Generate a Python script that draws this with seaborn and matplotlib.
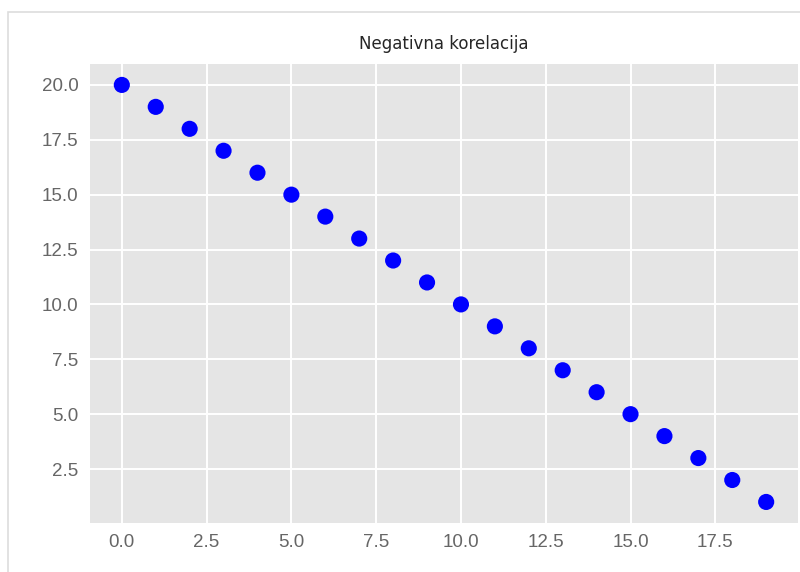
import numpy as np
import pandas as pd
import matplotlib
matplotlib.use("Agg")
import matplotlib.pyplot as plt
import seaborn as sns
from matplotlib.patches import Rectangle

# Podaci
x_vals = [0, 1, 2, 3, 4, 5, 6, 7, 8, 9, 10, 11, 12, 13, 14, 15, 16, 17, 18, 19]
y_vals = [20, 19, 18, 17, 16, 15, 14, 13, 12, 11, 10, 9, 8, 7, 6, 5, 4, 3, 2, 1]
x_ticks = [0.0, 2.5, 5.0, 7.5, 10.0, 12.5, 15.0, 17.5]
y_ticks = [2.5, 5.0, 7.5, 10.0, 12.5, 15.0, 17.5, 20.0]

df = pd.DataFrame({"x": x_vals, "y": y_vals})

sns.set_style("darkgrid", {
    "axes.facecolor": "#E5E5E5",
    "grid.color": "white",
    "xtick.color": "#666666",
    "ytick.color": "#666666",
})
plt.rcParams['font.family'] = ['Liberation Sans', 'DejaVu Sans']
plt.rcParams['grid.linewidth'] = 1.4

fig = plt.figure(figsize=(8, 5.72), dpi=100)
ax = fig.add_axes([0.112, 0.086, 0.886, 0.802])

sns.scatterplot(data=df, x="x", y="y", color="blue", s=135, edgecolor="none", ax=ax)

ax.set_xticks(x_ticks)
ax.set_yticks(y_ticks)
ax.set_xticklabels([f"{t:.1f}" for t in x_ticks])
ax.set_yticklabels([f"{t:.1f}" for t in y_ticks])
ax.tick_params(labelsize=13.5, pad=8, length=0)
ax.set_xlabel("")
ax.set_ylabel("")
ax.set_title("Negativna korelacija", fontsize=12, family="DejaVu Sans", pad=11)
for s in ax.spines.values():
    s.set_visible(False)

# okvir slike
fig.patches.append(Rectangle((0.01, -0.05), 1.1, 1.029, transform=fig.transFigure,
                             fill=False, edgecolor="#DDDDDD", linewidth=1.2))

fig.savefig("out.png", dpi=100)
